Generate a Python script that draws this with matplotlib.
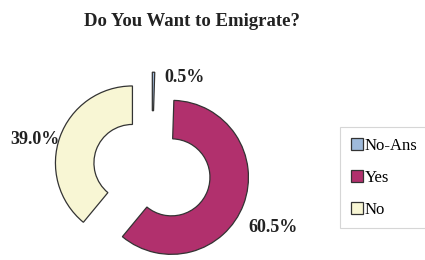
import numpy as np
import matplotlib
matplotlib.use("Agg")
import matplotlib.pyplot as plt

labels = ["No-Ans", "Yes", "No"]
shares = [0.5, 60.5, 39.0]
colors = ["#9fbadb", "#b1306d", "#f8f6d4"]
pct_text = ["0.5%", "60.5%", "39.0%"]

plt.rcParams["font.family"] = ["Liberation Serif", "DejaVu Serif"]

W, H = 425, 260
fig = plt.figure(figsize=(W / 100, H / 100), dpi=100)
# pie centre in pixels and radius in pixels
cx, cy, R = 152, 170, 77
ax = fig.add_axes([0, 0, 1, 1])
ax.axis("off")

explode = 0.27
wedges, _ = ax.pie(shares, colors=colors, startangle=90, counterclock=False,
                   radius=1, explode=[explode] * 3,
                   wedgeprops=dict(width=0.5, edgecolor="#333333", linewidth=0.9))
ax.set_xlim(-cx / R, (W - cx) / R)
ax.set_ylim(-(H - cy) / R, cy / R)
ax.set_aspect("auto")

# label placement: (distance factor, extra angle, ha)
place = [(0.94, -9, "left"), (1.19, -12.6, "left"), (0.99, 2.2, "right")]
for w, txt, (k, dang, ha) in zip(wedges, pct_text, place):
    mid = np.deg2rad((w.theta1 + w.theta2) / 2)
    ox = explode * np.cos(mid)
    oy = explode * np.sin(mid)
    a = mid + np.deg2rad(dang)
    ax.text(ox + k * np.cos(a), oy + k * np.sin(a), txt, ha=ha, va="center",
            fontsize=13, fontweight="bold", color="#222222")

fig.text(192 / W, 1 - 21 / H, "Do You Want to Emigrate?", ha="center", va="center",
         fontsize=13.5, fontweight="bold", color="#222222")

leg = fig.legend(wedges, labels, loc="upper left",
                 bbox_to_anchor=(340 / W, 1 - 127 / H), fontsize=12,
                 frameon=True, fancybox=False, handlelength=0.7, handleheight=0.7,
                 handletextpad=0.15, labelspacing=0.95, borderpad=0.65,
                 borderaxespad=0)
leg.get_frame().set_edgecolor("#cccccc")
leg.get_frame().set_linewidth(0.8)

fig.savefig("out.png", dpi=100, facecolor="white")
